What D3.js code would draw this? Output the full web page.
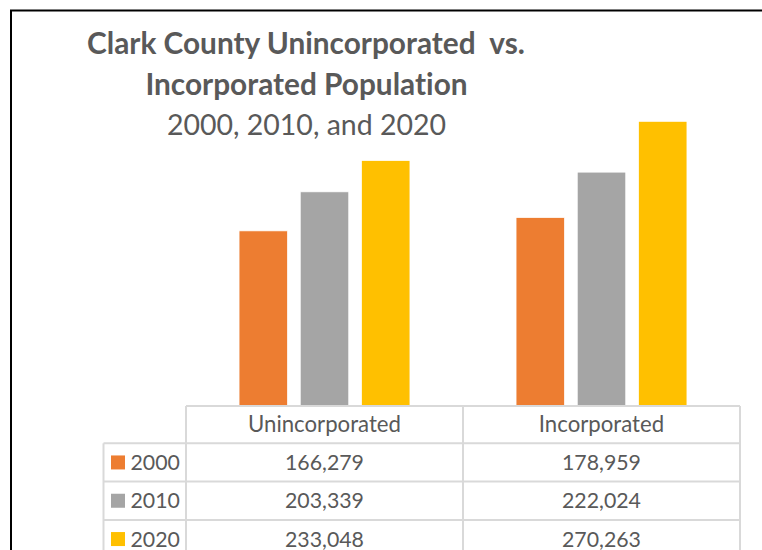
<!DOCTYPE html>
<html>
<head>
<meta charset="utf-8">
<script src="https://cdn.jsdelivr.net/npm/d3@7"></script>
<style>
  html, body { margin: 0; padding: 0; background: #fff; }
  svg { display: block; font-family: Lato, "Open Sans", sans-serif; font-variant-ligatures: none; }
</style>
</head>
<body>
<svg id="chart" width="762" height="550"></svg>
<script>
// Population by area type and census year
const categories = ["Unincorporated", "Incorporated"];
const years = ["2000", "2010", "2020"];
const pop2000 = [166279, 178959];
const pop2010 = [203339, 222024];
const pop2020 = [233048, 270263];
const seriesColors = ["#ED7D31", "#A5A5A5", "#FFC000"];
const axisMax = 300000;

const seriesValues = [pop2000, pop2010, pop2020];
const fmt = d3.format(",");
const textColor = "#595959";
const gridColor = "#d9d9d9";

const svg = d3.select("#chart");

// Frame lines (top and left)
svg.append("line").attr("x1", 10).attr("x2", 762).attr("y1", 10.5).attr("y2", 10.5)
  .attr("stroke", "#000").attr("stroke-width", 2);
svg.append("line").attr("x1", 11).attr("x2", 11).attr("y1", 10).attr("y2", 550)
  .attr("stroke", "#000").attr("stroke-width", 2);

// Title
const title = svg.append("g").attr("fill", textColor).attr("text-anchor", "middle");
title.append("text").attr("x", 306).attr("y", 54).attr("font-size", 29.8).attr("font-weight", 700)
  .style("white-space", "pre").text("Clark County Unincorporated  vs.");
title.append("text").attr("x", 306.5).attr("y", 95).attr("font-size", 29.8).attr("font-weight", 700)
  .text("Incorporated Population");
title.append("text").attr("x", 306.5).attr("y", 135).attr("font-size", 28.5)
  .text("2000, 2010, and 2020");

// Scales
const plotLeft = 186, plotRight = 740, baseY = 406, topY = 90;
const x0 = d3.scaleBand().domain(categories).range([plotLeft, plotRight]).padding(0);
const groupW = x0.bandwidth() * 0.617;
const x1 = d3.scaleBand().domain(years)
  .range([(x0.bandwidth() - groupW) / 2, (x0.bandwidth() + groupW) / 2])
  .paddingInner(0.2075).paddingOuter(0);
const y = d3.scaleLinear().domain([0, axisMax]).range([baseY, topY]);

// Bars
const bars = [];
years.forEach((yr, si) => {
  categories.forEach((cat, ci) => {
    bars.push({ yr, cat, v: seriesValues[si][ci], color: seriesColors[si] });
  });
});
svg.append("g").selectAll("rect").data(bars).join("rect")
  .attr("x", d => x0(d.cat) + x1(d.yr))
  .attr("width", x1.bandwidth())
  .attr("y", d => y(d.v))
  .attr("height", d => y(0) - y(d.v))
  .attr("fill", d => d.color)
  .attr("stroke", "#fff").attr("stroke-width", 0.75);

// Data table below the plot
const headerH = 37.3, rowH = 38.3, tableLeft = 103.5;
const tbl = svg.append("g");
const fsHeader = 22.2, fsCell = 21.3;

// Grid
tbl.append("line").attr("x1", plotLeft).attr("x2", plotRight).attr("y1", baseY).attr("y2", baseY)
  .attr("stroke", gridColor).attr("stroke-width", 2);
const rowTops = years.map((_, i) => baseY + headerH + i * rowH);
[...rowTops, baseY + headerH + years.length * rowH].forEach(ry => {
  tbl.append("line").attr("x1", tableLeft).attr("x2", plotRight).attr("y1", ry).attr("y2", ry)
    .attr("stroke", gridColor).attr("stroke-width", 2);
});
const colEdges = [plotLeft, ...categories.map(c => x0(c) + x0.bandwidth())];
colEdges.forEach(cx => {
  tbl.append("line").attr("x1", cx).attr("x2", cx).attr("y1", baseY).attr("y2", 560)
    .attr("stroke", gridColor).attr("stroke-width", 2);
});
tbl.append("line").attr("x1", tableLeft).attr("x2", tableLeft).attr("y1", baseY + headerH).attr("y2", 560)
  .attr("stroke", gridColor).attr("stroke-width", 2);

// Header labels
tbl.selectAll("text.hdr").data(categories).join("text").attr("class", "hdr")
  .attr("x", d => x0(d) + x0.bandwidth() / 2)
  .attr("y", baseY + headerH / 2 + fsHeader * 0.35)
  .attr("text-anchor", "middle").attr("font-size", fsHeader).attr("fill", textColor)
  .text(d => d);

// Rows: legend key, year, values
years.forEach((yr, si) => {
  const cy = rowTops[si] + rowH / 2;
  tbl.append("rect").attr("x", 111).attr("y", cy - 7).attr("width", 14).attr("height", 14)
    .attr("fill", seriesColors[si]);
  tbl.append("text").attr("x", 130.5).attr("y", cy + fsCell * 0.36)
    .attr("font-size", fsCell).attr("fill", textColor).text(yr);
  categories.forEach((cat, ci) => {
    tbl.append("text").attr("x", x0(cat) + x0.bandwidth() / 2).attr("y", cy + fsCell * 0.36)
      .attr("text-anchor", "middle").attr("font-size", fsCell).attr("fill", textColor)
      .text(fmt(seriesValues[si][ci]));
  });
});
</script>
</body>
</html>
